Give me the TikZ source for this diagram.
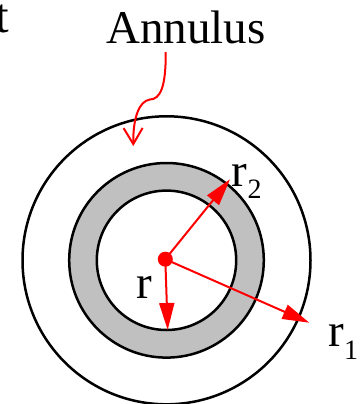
\documentclass[tikz,border=0pt]{standalone}
\usepackage{fontspec}
\setmainfont{Liberation Serif}
\usetikzlibrary{arrows.meta}
\definecolor{ringgray}{RGB}{192,192,192}
\tikzset{
  ringline/.style={draw=black, line width=2.5pt},
  radarrow/.style={draw=red, line width=2pt, -{Triangle[length=27pt,width=15pt]}},
  callout/.style={draw=red, line width=2pt, -{Straight Barb[length=16pt,width=19pt]}},
  lbl/.style={inner sep=0pt, font=\fontsize{47}{50}\selectfont},
}
\newcommand{\subtxt}[2]{\raisebox{-#1pt}{\fontsize{28}{30}\selectfont #2}}
\begin{document}
\begin{tikzpicture}[x=1pt,y=-1pt]
\useasboundingbox (0,0) rectangle (360,404);
% rings
\coordinate (o) at (166.5,260.3);
\fill[ringgray, even odd rule] (o) circle (97.3) (o) circle (69.7);
\draw[ringline] (o) circle (144);
\draw[ringline] (o) circle (97.3);
\draw[ringline] (o) circle (69.7);
% labels
\node[lbl, anchor=base east, font=\fontsize{49}{52}\selectfont] (t) at (9.5,33) {t};
\node[lbl, anchor=base west] (ann) at (106,43.3) {Annulus};
\node[lbl, anchor=base west] (rl) at (136,298) {r};
\node[lbl, anchor=base west] (r2l) at (231.7,186.7) {r\subtxt{11.6}{2}};
\node[lbl, anchor=base west] (r1l) at (328.3,346.7) {r\subtxt{12.6}{1}};
% callout
\coordinate (annstart) at (165.7,52);
\coordinate (anntip) at (133.3,146);
\draw[callout] (annstart) .. controls (166,88) and (160,99) .. (150,99.5)
  .. controls (139,101) and (133,118) .. (anntip);
% radii
\coordinate (rtip) at (167.7,330);
\coordinate (r2tip) at (230,179.3);
\coordinate (r1tip) at (309.3,322.7);
\node[circle, fill=red, inner sep=0pt, minimum size=15pt] (c) at (165.3,259.2) {};
\draw[radarrow] (c.center) -- (rtip);
\draw[radarrow] (c.center) -- (r2tip);
\draw[radarrow] (c.center) -- (r1tip);
\end{tikzpicture}
\end{document}
